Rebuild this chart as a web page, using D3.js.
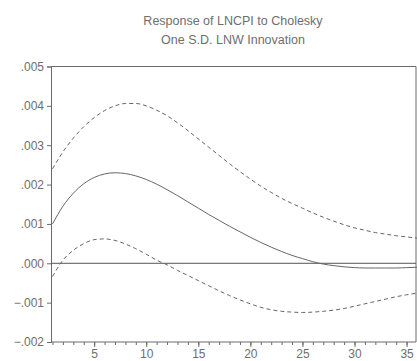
<!DOCTYPE html>
<html>
<head>
<meta charset="utf-8">
<script src="https://cdn.jsdelivr.net/npm/d3@7"></script>
<style>
  body { margin: 0; background: #fff; }
  text { font-family: "Liberation Sans", Arial, sans-serif; fill: #6e6e6e; }
</style>
</head>
<body>
<svg id="chart" width="417" height="361"></svg>
<script>
// periods 1..36
const periods = d3.range(1, 37);

const response = [
  .00100, .00145, .00178, .00202, .00218, .00227, .00230, .00228, .00222, .00213,
  .00201, .00187, .00172, .00156, .00140, .00124, .00109, .00094, .00080, .00066,
  .00053, .00041, .00030, .00020, .00012, .00004, -.00002, -.00006, -.00009, -.00011,
  -.00012, -.00012, -.00012, -.00012, -.00011, -.00010
];

const upperBand = [
  .00240, .00283, .00318, .00347, .00370, .00388, .00400, .00406, .00406, .00400,
  .00389, .00375, .00357, .00337, .00316, .00295, .00274, .00253, .00233, .00214,
  .00196, .00180, .00165, .00152, .00140, .00128, .00117, .00107, .00098, .00090,
  .00084, .00078, .00074, .00070, .00067, .00064
];

const lowerBand = [
  -.00034, .00008, .00033, .00050, .00060, .00062, .00058, .00049, .00037, .00023,
  .00008, -.00004, -.00018, -.00031, -.00044, -.00057, -.00070, -.00082, -.00093, -.00103,
  -.00112, -.00118, -.00122, -.00124, -.00125, -.00124, -.00122, -.00119, -.00115, -.00109,
  -.00103, -.00097, -.00091, -.00085, -.00080, -.00076
];

const yTicks = [-.002, -.001, 0, .001, .002, .003, .004, .005];
const xTicks = [5, 10, 15, 20, 25, 30, 35];
const titleLines = ['Response of LNCPI to Cholesky', 'One S.D. LNW Innovation'];

const svg = d3.select('#chart');
const plot = { left: 51, right: 416, top: 66.5, bottom: 342 };
const ink = '#6a6a6a';

const x = d3.scaleLinear().domain([1, 36]).range([52.5, 417]);
const y = d3.scaleLinear().domain([-.002, .005]).range([plot.bottom, plot.top]);

// title
svg.append('g')
  .selectAll('text')
  .data(titleLines)
  .join('text')
  .attr('x', 233)
  .attr('y', (d, i) => 25 + i * 19)
  .attr('text-anchor', 'middle')
  .attr('font-size', 12.5)
  .attr('fill', '#777')
  .text(d => d);

// y axis
const fmt = v => v === 0 ? '.000' : d3.format('.3f')(v).replace('0.', '.');
const yAxis = svg.append('g')
  .attr('transform', `translate(${plot.left},0)`)
  .call(d3.axisLeft(y).tickValues(yTicks).tickSize(4).tickPadding(3).tickFormat(fmt));
yAxis.select('.domain').attr('stroke', ink);
yAxis.selectAll('.tick line').attr('stroke', ink);
yAxis.selectAll('.tick text').attr('font-size', 12).attr('fill', '#777')
  .style('font-family', '"Liberation Sans", Arial, sans-serif');

// x axis, minor ticks every period
const xAxis = svg.append('g')
  .attr('transform', `translate(0,${plot.bottom})`)
  .call(d3.axisBottom(x).tickValues(periods).tickSize(3).tickFormat(''));
xAxis.select('.domain').remove();
xAxis.selectAll('.tick line').attr('stroke', ink);

const xMajor = svg.append('g')
  .attr('transform', `translate(0,${plot.bottom})`)
  .call(d3.axisBottom(x).tickValues(xTicks).tickSize(5).tickPadding(2));
xMajor.select('.domain').remove();
xMajor.selectAll('.tick line').attr('stroke', ink);
xMajor.selectAll('.tick text').attr('font-size', 12).attr('fill', '#777')
  .style('font-family', '"Liberation Sans", Arial, sans-serif');

// frame
svg.append('line')
  .attr('x1', plot.left).attr('x2', plot.right)
  .attr('y1', plot.bottom).attr('y2', plot.bottom)
  .attr('stroke', ink);
svg.append('line')
  .attr('x1', plot.left).attr('x2', plot.right)
  .attr('y1', plot.top).attr('y2', plot.top)
  .attr('stroke', ink);
svg.append('line')
  .attr('x1', plot.right).attr('x2', plot.right)
  .attr('y1', plot.top).attr('y2', plot.bottom)
  .attr('stroke', ink);

// zero line
svg.append('line')
  .attr('x1', plot.left).attr('x2', plot.right)
  .attr('y1', y(0)).attr('y2', y(0))
  .attr('stroke', '#555')
  .attr('stroke-width', 1);

// series
const line = d3.line()
  .x((d, i) => x(periods[i]))
  .y(d => y(d))
  .curve(d3.curveMonotoneX);

const series = [
  { values: upperBand, dash: '4,3' },
  { values: lowerBand, dash: '4,3' },
  { values: response, dash: null }
];

svg.append('g')
  .selectAll('path')
  .data(series)
  .join('path')
  .attr('d', d => line(d.values))
  .attr('fill', 'none')
  .attr('stroke', '#666')
  .attr('stroke-width', 1)
  .attr('stroke-dasharray', d => d.dash);
</script>
</body>
</html>
